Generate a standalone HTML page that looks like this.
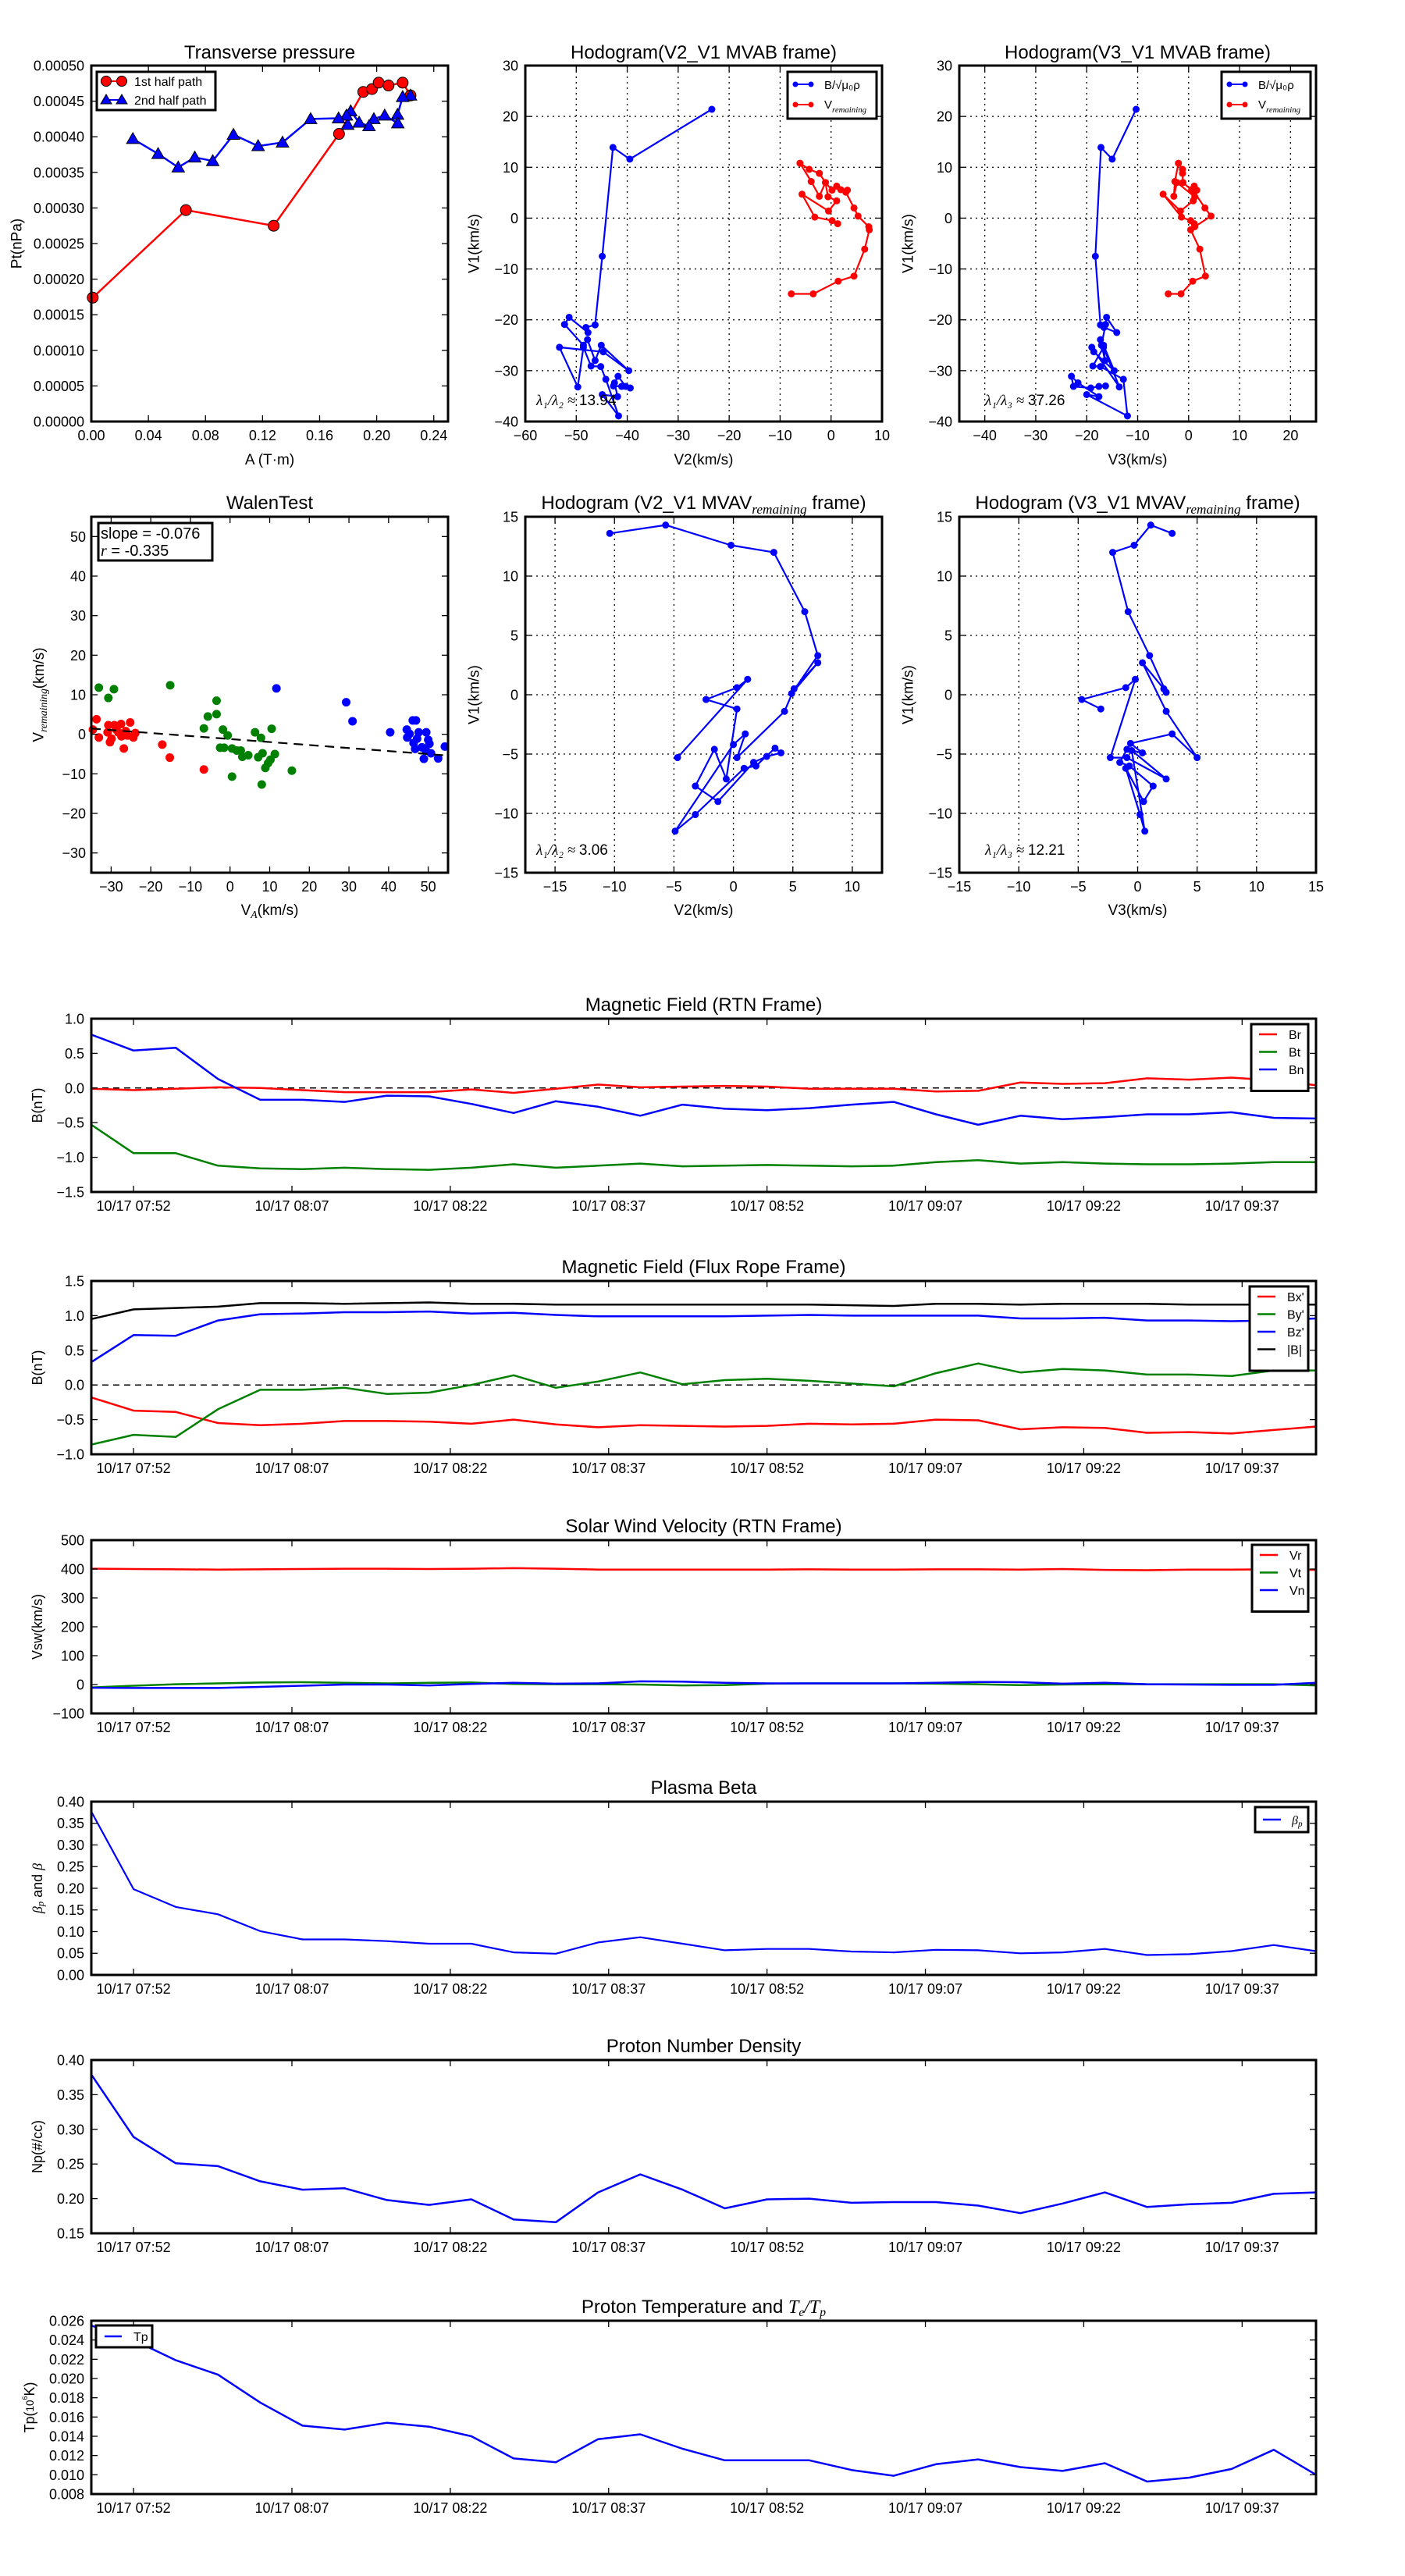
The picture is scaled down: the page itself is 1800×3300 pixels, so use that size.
<!DOCTYPE html>
<html><head><meta charset="utf-8">
<style>
html,body{margin:0;padding:0;background:#fff;}
svg{display:block;font-family:"Liberation Sans","DejaVu Sans",sans-serif;}
</style></head>
<body>
<svg id="fig" width="1800" height="3300" viewBox="0 0 1800 3300" xmlns="http://www.w3.org/2000/svg"></svg>
<script>
// ---------- Transverse pressure ----------
const ptFirstA = [0.001,0.0663,0.1278,0.1736,0.1906,0.1967,0.2014,0.2083,0.2182,0.2237];
const ptFirstP = [0.000174,0.000297,0.000275,0.000404,0.000463,0.000467,0.000476,0.000472,0.000476,0.000458];
const ptSecondA = [0.2237,0.2182,0.2146,0.2148,0.2056,0.1980,0.1946,0.1877,0.1818,0.1797,0.1788,0.1733,0.1537,0.1340,0.1169,0.0996,0.0851,0.0725,0.0609,0.0468,0.0291];
const ptSecondP = [0.000458,0.000456,0.000431,0.000419,0.000430,0.000425,0.000415,0.000420,0.000436,0.000417,0.000430,0.000426,0.000425,0.000392,0.000387,0.000403,0.000366,0.000371,0.000357,0.000376,0.000397];
const ptXTicks = [0,0.04,0.08,0.12,0.16,0.20,0.24];
const ptYTicks = [0,0.00005,0.0001,0.00015,0.0002,0.00025,0.0003,0.00035,0.0004,0.00045,0.0005];

// ---------- Hodogram V2_V1 MVAB ----------
const h1BlueV2 = [-23.4,-39.5,-42.8,-44.9,-46.3,-48.1,-47.7,-51.4,-52.3,-48.6,-47.8,-46.3,-45.1,-39.7,-44.7,-53.3,-49.7,-48.6,-47.1,-45.2,-44.2,-41.7,-44.9,-41.9,-42.5,-41.8,-40.3,-39.4,-41.1,-42.7];
const h1BlueV1 = [21.4,11.6,13.9,-7.5,-21.0,-21.5,-22.5,-19.5,-20.9,-25.0,-23.9,-28.0,-25.0,-30.0,-26.3,-25.4,-33.2,-25.4,-29.1,-29.2,-31.7,-38.9,-34.7,-35.1,-32.4,-31.1,-33.1,-33.4,-33.1,-33.0];
const h1RedV2 = [-7.8,-3.5,1.4,4.5,6.6,7.5,7.4,5.3,4.5,2.9,3.2,1.9,1.1,0.2,-1.1,-2.3,-4.3,-6.1,-3.9,-2.3,-1.1,-0.6,1.1,-0.5,-5.7,-3.2,0.2,1.3];
const h1RedV1 = [-14.9,-14.9,-12.4,-11.4,-6.1,-2.3,-1.7,0.4,2.0,5.1,5.5,5.6,6.3,5.5,7.0,8.8,9.6,10.8,7.2,4.3,7.0,4.2,3.4,1.4,4.7,0.2,-0.5,-1.1];
const h1XTicks = [-60,-50,-40,-30,-20,-10,0,10];
const h1YTicks = [-40,-30,-20,-10,0,10,20,30];

// ---------- Hodogram V3_V1 MVAB ----------
const h2BlueV3 = [-10.3,-15.0,-17.2,-18.3,-17.3,-16.6,-14.1,-16.1,-16.3,-17.1,-17.3,-16.4,-16.7,-14.6,-18.6,-19.0,-13.6,-16.7,-18.8,-17.3,-12.8,-12.0,-20.0,-17.6,-21.7,-23.0,-22.6,-19.2,-17.6,-16.3];
const h2BlueV1 = [21.4,11.6,13.9,-7.5,-21.0,-21.5,-22.5,-19.5,-20.9,-25.0,-23.9,-28.0,-25.0,-30.0,-26.3,-25.4,-33.2,-25.4,-29.1,-29.2,-31.7,-38.9,-34.7,-35.1,-32.4,-31.1,-33.1,-33.4,-33.1,-33.0];
const h2RedV3 = [-4.0,-1.5,0.8,3.3,2.2,0.4,1.2,4.4,3.2,1.1,1.6,0.6,1.1,0.6,-1.1,-1.2,-1.2,-2.0,-2.7,-2.9,-2.3,1.2,0.9,-1.6,-5.0,-1.4,0.4,1.1];
const h2RedV1 = [-14.9,-14.9,-12.4,-11.4,-6.1,-2.3,-1.7,0.4,2.0,5.1,5.5,5.6,6.3,5.5,7.0,8.8,9.6,10.8,7.2,4.3,7.0,4.2,3.4,1.4,4.7,0.2,-0.5,-1.1];
const h2XTicks = [-40,-30,-20,-10,0,10,20];
const h2YTicks = [-40,-30,-20,-10,0,10,20,30];

// ---------- Walen test ----------
const walenRedX = [-33.7,-34.6,-33.1,-30.7,-30.3,-29.9,-29.2,-28.2,-27.5,-27.4,-26.8,-26.3,-25.2,-24.4,-23.9,-30.9,-28.7,-25.9,-17.1,-15.2,-6.6];
const walenRedY = [3.8,1.2,-0.8,2.3,-2.0,-1.1,2.3,0.5,2.6,-0.5,-3.6,0.8,3.0,-0.8,0.3,0.5,1.2,-0.3,-2.6,-5.9,-8.9];
const walenGreenX = [-33.1,-30.7,-29.3,-15.1,-6.6,-5.6,-3.4,-3.4,-1.8,-1.5,-0.6,-2.5,0.5,0.5,1.7,2.7,3.1,4.6,6.3,7.1,7.8,8.2,8.0,8.9,9.6,10.2,10.5,11.3,15.6];
const walenGreenY = [11.8,9.2,11.4,12.4,1.5,4.5,8.5,5.1,1.2,-3.4,-0.3,-3.4,-3.6,-10.7,-4.1,-4.1,-5.7,-5.3,0.5,-5.8,-0.9,-4.8,-12.7,-8.5,-7.3,-6.4,1.4,-5.0,-9.2];
const walenBlueX = [11.7,29.3,30.9,40.4,44.6,44.7,46.1,46.9,46.3,46.7,47.6,49.5,50.0,50.3,48.9,50.7,52.5,54.2,45.3,47.2,48.4,49.4];
const walenBlueY = [11.6,8.1,3.3,0.5,1.2,-0.8,3.5,3.5,-2.2,-3.7,0.5,0.5,-1.4,-2.4,-6.2,-4.8,-6.1,-3.1,0.1,-1.1,-3.3,-4.1];
const walenSlope = [-0.076];
const walenIntercept = [-1.2];
const walenXTicks = [-30,-20,-10,0,10,20,30,40,50];
const walenYTicks = [-30,-20,-10,0,10,20,30,40,50];

// ---------- Hodogram V2_V1 MVAV ----------
const h3V2 = [-10.4,-5.7,-0.2,3.4,6.0,7.1,4.9,7.1,5.1,4.3,0.3,1.0,0.0,-4.9,-3.2,0.9,1.9,3.5,4.0,2.8,1.7,-1.3,-3.2,-1.6,-0.6,0.3,-2.3,0.3,1.2,-4.7];
const h3V1 = [13.6,14.3,12.6,12.0,7.0,3.3,0.1,2.7,0.5,-1.4,-5.3,-3.3,-4.2,-11.5,-10.1,-6.2,-6.0,-4.5,-4.9,-5.2,-5.7,-9.0,-7.7,-4.6,-7.1,-1.2,-0.4,0.6,1.3,-5.3];
const h3XTicks = [-15,-10,-5,0,5,10];
const h3YTicks = [-15,-10,-5,0,5,10,15];

// ---------- Hodogram V3_V1 MVAV ----------
const h4V3 = [2.9,1.1,-0.3,-2.1,-0.8,1.0,2.4,2.2,0.4,2.4,5.0,2.9,-0.6,0.4,-0.9,-1.5,-0.7,1.3,0.5,-1.0,0.2,0.6,-0.5,2.4,-0.9,-2.3,-0.2,-1.0,-4.7,-3.1];
const h4V1 = [13.6,14.3,12.6,12.0,7.0,3.3,0.2,0.5,2.7,-1.4,-5.3,-3.3,-4.1,-4.9,-4.6,-5.7,-6.0,-7.7,-9.0,-6.2,-10.1,-11.5,-4.7,-7.1,-5.3,-5.3,1.3,0.6,-0.4,-1.2];
const h4XTicks = [-15,-10,-5,0,5,10,15];
const h4YTicks = [-15,-10,-5,0,5,10,15];

// ---------- Time series (30 samples, every 4 min from 07:48) ----------
const timeTickLabels = ["10/17 07:52","10/17 08:07","10/17 08:22","10/17 08:37","10/17 08:52","10/17 09:07","10/17 09:22","10/17 09:37"];
const timeTickIndex = [1,4.75,8.5,12.25,16,19.75,23.5,27.25];
const Br = [-0.01,-0.03,-0.01,0.01,0,-0.03,-0.06,-0.06,-0.06,-0.02,-0.07,-0.01,0.05,0.01,0.02,0.03,0.02,-0.01,-0.01,-0.01,-0.05,-0.04,0.08,0.06,0.07,0.14,0.12,0.15,0.11,0.04];
const Bt = [-0.53,-0.94,-0.94,-1.12,-1.16,-1.17,-1.15,-1.17,-1.18,-1.15,-1.10,-1.15,-1.12,-1.09,-1.13,-1.12,-1.11,-1.12,-1.13,-1.12,-1.07,-1.04,-1.09,-1.07,-1.09,-1.10,-1.10,-1.09,-1.07,-1.07];
const Bn = [0.77,0.54,0.58,0.13,-0.17,-0.17,-0.20,-0.11,-0.12,-0.23,-0.36,-0.19,-0.27,-0.40,-0.24,-0.30,-0.32,-0.29,-0.24,-0.20,-0.38,-0.53,-0.40,-0.45,-0.42,-0.38,-0.38,-0.35,-0.43,-0.44];
const rtnYTicks = [-1.5,-1.0,-0.5,0.0,0.5,1.0];
const Bx_ = [-0.18,-0.37,-0.39,-0.55,-0.58,-0.56,-0.52,-0.52,-0.53,-0.56,-0.50,-0.57,-0.61,-0.58,-0.59,-0.60,-0.59,-0.56,-0.57,-0.56,-0.50,-0.51,-0.64,-0.61,-0.62,-0.69,-0.68,-0.70,-0.65,-0.60];
const By_ = [-0.86,-0.72,-0.75,-0.35,-0.07,-0.07,-0.04,-0.13,-0.11,0,0.14,-0.04,0.05,0.18,0.01,0.07,0.09,0.06,0.02,-0.02,0.17,0.31,0.18,0.23,0.21,0.15,0.15,0.13,0.21,0.21];
const Bz_ = [0.33,0.72,0.71,0.93,1.02,1.03,1.05,1.05,1.06,1.03,1.04,1.01,0.99,0.99,0.99,0.99,1.00,1.01,1.00,1.00,1.00,1.00,0.96,0.96,0.97,0.93,0.93,0.92,0.93,0.96];
const Bmag = [0.95,1.09,1.11,1.13,1.18,1.18,1.17,1.18,1.19,1.17,1.17,1.16,1.16,1.16,1.16,1.16,1.16,1.16,1.15,1.14,1.17,1.17,1.16,1.17,1.17,1.17,1.16,1.16,1.16,1.16];
const frYTicks = [-1.0,-0.5,0.0,0.5,1.0,1.5];
const Vr = [401,400,399,398,399,400,401,401,400,401,403,401,398,398,398,398,398,399,398,398,399,399,398,400,397,396,398,398,399,397];
const Vt = [-10,-4,1,4,7,8,6,4,6,7,2,1,1,0,-3,-2,3,4,4,4,3,1,-2,0,1,1,1,1,1,-3];
const Vn = [-11,-12,-12,-12,-8,-4,0,0,-3,2,6,3,4,11,10,6,4,4,4,4,6,9,8,3,6,1,0,-1,-1,6];
const swYTicks = [-100,0,100,200,300,400,500];
const betaP = [0.377,0.198,0.157,0.140,0.101,0.082,0.082,0.078,0.072,0.072,0.052,0.049,0.075,0.087,0.072,0.057,0.060,0.060,0.054,0.052,0.058,0.057,0.050,0.052,0.060,0.046,0.048,0.055,0.069,0.055];
const betaYTicks = [0,0.05,0.10,0.15,0.20,0.25,0.30,0.35,0.40];
const Np = [0.379,0.289,0.251,0.247,0.225,0.213,0.215,0.198,0.191,0.199,0.170,0.166,0.209,0.235,0.213,0.186,0.199,0.200,0.194,0.195,0.195,0.190,0.179,0.193,0.209,0.188,0.192,0.194,0.207,0.209];
const npYTicks = [0.15,0.20,0.25,0.30,0.35,0.40];
const Tp = [0.0255,0.0240,0.0219,0.0204,0.0175,0.0151,0.0147,0.0154,0.0150,0.0140,0.0117,0.0113,0.0137,0.0142,0.0127,0.0115,0.0115,0.0115,0.0105,0.0099,0.0111,0.0116,0.0108,0.0104,0.0112,0.0093,0.0097,0.0106,0.0126,0.0100];
const tpYTicks = [0.008,0.010,0.012,0.014,0.016,0.018,0.020,0.022,0.024,0.026];

const NS = "http://www.w3.org/2000/svg";
const fig = document.getElementById('fig');
function el(tag, attrs, parent){
  const e = document.createElementNS(NS, tag);
  for (const k in attrs) e.setAttribute(k, attrs[k]);
  (parent || fig).appendChild(e);
  return e;
}
function fmtMinus(s){ return String(s).replace('-', '\u2212'); }
function txt(x, y, s, size, anchor, parent, extra){
  const t = el('text', Object.assign({x:x, y:y, 'font-size':size, 'text-anchor':anchor||'middle', fill:'#000'}, extra||{}), parent);
  t.textContent = s;
  return t;
}

function makeAxes(name, L, R, T, B, x0, x1, y0, y1){
  const g = el('g', {});
  
  
  return {g:g, L:L, R:R, T:T, B:B,
    sx: v => L + (v - x0) / (x1 - x0) * (R - L),
    sy: v => B - (v - y0) / (y1 - y0) * (B - T)};
}
function drawFrame(ax){
  const r = el('rect', {x:ax.L, y:ax.T, width:ax.R-ax.L, height:ax.B-ax.T, fill:'none', stroke:'#000', 'stroke-width':3}, ax.g);
  
  
}
function drawXTicks(ax, vals, labels, size, ly, grid){
  const g = el('g', {}, ax.g);
  
  
  vals.forEach((v, i) => {
    const x = ax.sx(v);
    if (grid) el('line', {x1:x, x2:x, y1:ax.T, y2:ax.B, stroke:'#000', 'stroke-width':1.3, 'stroke-dasharray':'2,5'}, g);
    el('line', {x1:x, x2:x, y1:ax.B, y2:ax.B-8, stroke:'#000', 'stroke-width':1.3}, g);
    el('line', {x1:x, x2:x, y1:ax.T, y2:ax.T+8, stroke:'#000', 'stroke-width':1.3}, g);
    const t = txt(x, ly, labels[i], size, 'middle', g);
    
    
  });
}
function drawYTicks(ax, vals, labels, size, lx, grid){
  const g = el('g', {}, ax.g);
  
  
  vals.forEach((v, i) => {
    const y = ax.sy(v);
    if (grid) el('line', {x1:ax.L, x2:ax.R, y1:y, y2:y, stroke:'#000', 'stroke-width':1.3, 'stroke-dasharray':'2,5'}, g);
    el('line', {x1:ax.L, x2:ax.L+8, y1:y, y2:y, stroke:'#000', 'stroke-width':1.3}, g);
    el('line', {x1:ax.R, x2:ax.R-8, y1:y, y2:y, stroke:'#000', 'stroke-width':1.3}, g);
    const t = txt(lx, y + size*0.36, labels[i], size, 'end', g);
    
    
  });
}
function title(ax, s, y, size, name){
  const t = txt((ax.L+ax.R)/2, y, s, size||24, 'middle', ax.g);
  
  
  return t;
}
function xlabel(ax, s, y, size){
  const t = txt((ax.L+ax.R)/2, y, s, size||20, 'middle', ax.g);
  
  
  return t;
}
function ylabel(ax, s, x, size){
  const cy = (ax.T+ax.B)/2;
  const t = txt(x, cy, s, size||20, 'middle', ax.g, {transform:'rotate(-90 '+x+' '+cy+')', 'dominant-baseline':'central'});
  
  
  return t;
}
function polyline(ax, xs, ys, color, w, name){
  const pts = xs.map((x, i) => ax.sx(x).toFixed(1) + ',' + ax.sy(ys[i]).toFixed(1)).join(' ');
  const p = el('polyline', {points:pts, fill:'none', stroke:color, 'stroke-width':w, 'stroke-linejoin':'round'}, ax.g);
  
  
  return p;
}
function dots(ax, xs, ys, color, r, name){
  const g = el('g', {}, ax.g);
  
  
  xs.forEach((x, i) => {
    el('circle', {cx:ax.sx(x), cy:ax.sy(ys[i]), r:r, fill:color, stroke:(r>6?'#000':'none'), 'stroke-width':1}, g);
  });
  return g;
}
function tris(ax, xs, ys, color, s, name){
  const g = el('g', {}, ax.g);
  
  
  xs.forEach((x, i) => {
    const cx = ax.sx(x), cy = ax.sy(ys[i]);
    el('polygon', {points:(cx)+','+(cy-s)+' '+(cx-s)+','+(cy+s*0.75)+' '+(cx+s)+','+(cy+s*0.75), fill:color, stroke:'#000', 'stroke-width':1}, g);
  });
  return g;
}
function legendBox(parent, x, y, w, h, name){
  const g = el('g', {}, parent);
  
  
  el('rect', {x:x, y:y, width:w, height:h, fill:'#fff', stroke:'#000', 'stroke-width':3}, g);
  return g;
}
function vremLabel(t){
  t.textContent = 'V';
  const s = el('tspan', {'font-family':'"Liberation Serif",serif', 'font-style':'italic', 'font-size':'0.72em', dy:'5'}, t);
  s.textContent = 'remaining';
}

// ===== Panel 1: Transverse pressure =====
(function(){
  const ax = makeAxes('transverse-pressure-chart', 117, 574, 84, 540, 0, 0.25, 0, 0.0005);
  polyline(ax, ptFirstA, ptFirstP, '#f00', 2.5, 'first-half-line');
  polyline(ax, ptSecondA, ptSecondP, '#00f', 2.5, 'second-half-line');
  dots(ax, ptFirstA, ptFirstP, '#f00', 7, 'first-half-markers');
  tris(ax, ptSecondA, ptSecondP, '#00f', 8, 'second-half-markers');
  drawFrame(ax);
  drawXTicks(ax, ptXTicks, ptXTicks.map(v => v.toFixed(2)), 18, 564);
  drawYTicks(ax, ptYTicks, ptYTicks.map(v => v.toFixed(5)), 18, 108);
  title(ax, 'Transverse pressure', 75);
  xlabel(ax, 'A (T\u00b7m)', 595, 19);
  ylabel(ax, 'Pt(nPa)', 22, 19);
  const lg = legendBox(ax.g, 124, 92, 152, 49, 'legend');
  el('line', {x1:136, x2:156, y1:104, y2:104, stroke:'#f00', 'stroke-width':2}, lg);
  el('circle', {cx:136, cy:104, r:6.5, fill:'#f00', stroke:'#000'}, lg);
  el('circle', {cx:156, cy:104, r:6.5, fill:'#f00', stroke:'#000'}, lg);
  const t1 = txt(172, 110, '1st half path', 16, 'start', lg);
  
  
  el('line', {x1:136, x2:156, y1:128, y2:128, stroke:'#00f', 'stroke-width':2}, lg);
  el('polygon', {points:'136,121 129,133 143,133', fill:'#00f', stroke:'#000'}, lg);
  el('polygon', {points:'156,121 149,133 163,133', fill:'#00f', stroke:'#000'}, lg);
  const t2 = txt(172, 134, '2nd half path', 16, 'start', lg);
  
  
})();

function hodoLegend(ax, x, y){
  const lg = legendBox(ax.g, x, y, 114, 60, 'legend');
  el('line', {x1:x+10, x2:x+30, y1:y+16, y2:y+16, stroke:'#00f', 'stroke-width':2}, lg);
  el('circle', {cx:x+10, cy:y+16, r:3.5, fill:'#00f'}, lg);
  el('circle', {cx:x+30, cy:y+16, r:3.5, fill:'#00f'}, lg);
  const t1 = txt(x+47, y+22, 'B/\u221a\u03bc\u2080\u03c1', 15, 'start', lg);
  
  
  el('line', {x1:x+10, x2:x+30, y1:y+42, y2:y+42, stroke:'#f00', 'stroke-width':2}, lg);
  el('circle', {cx:x+10, cy:y+42, r:3.5, fill:'#f00'}, lg);
  el('circle', {cx:x+30, cy:y+42, r:3.5, fill:'#f00'}, lg);
  const t2 = txt(x+47, y+47, '', 15, 'start', lg);
  vremLabel(t2);
  
  
}
function lambdaText(ax, x, y, a, b, val){
  const t = el('text', {x:x, y:y, 'font-size':19, fill:'#000'}, ax.g);
  
  
  const s = el('tspan', {'font-family':'"Liberation Serif",serif', 'font-style':'italic'}, t);
  s.textContent = '\u03bb' + a + '/\u03bb' + b + ' \u2248 ';
  const v = el('tspan', {}, t);
  v.textContent = val;
}

// ===== Panel 2: Hodogram V2_V1 MVAB =====
(function(){
  const ax = makeAxes('hodogram-v2-v1-mvab', 673, 1130, 84, 540, -60, 10, -40, 30);
  drawXTicks(ax, h1XTicks, h1XTicks.map(fmtMinus), 18, 564, true);
  drawYTicks(ax, h1YTicks, h1YTicks.map(fmtMinus), 18, 664, true);
  polyline(ax, h1BlueV2, h1BlueV1, '#00f', 2.2, 'b-alfven-path');
  dots(ax, h1BlueV2, h1BlueV1, '#00f', 4.5, 'b-alfven-points');
  polyline(ax, h1RedV2, h1RedV1, '#f00', 2.2, 'v-remaining-path');
  dots(ax, h1RedV2, h1RedV1, '#f00', 4.5, 'v-remaining-points');
  drawFrame(ax);
  title(ax, 'Hodogram(V2_V1 MVAB frame)', 75);
  xlabel(ax, 'V2(km/s)', 595, 19);
  ylabel(ax, 'V1(km/s)', 608, 19);
  hodoLegend(ax, 1009, 92);
  lambdaText(ax, 687, 519, '\u2081', '\u2082', '13.94');
})();

// ===== Panel 3: Hodogram V3_V1 MVAB =====
(function(){
  const ax = makeAxes('hodogram-v3-v1-mvab', 1229, 1686, 84, 540, -45, 25, -40, 30);
  drawXTicks(ax, h2XTicks, h2XTicks.map(fmtMinus), 18, 564, true);
  drawYTicks(ax, h2YTicks, h2YTicks.map(fmtMinus), 18, 1220, true);
  polyline(ax, h2BlueV3, h2BlueV1, '#00f', 2.2, 'b-alfven-path');
  dots(ax, h2BlueV3, h2BlueV1, '#00f', 4.5, 'b-alfven-points');
  polyline(ax, h2RedV3, h2RedV1, '#f00', 2.2, 'v-remaining-path');
  dots(ax, h2RedV3, h2RedV1, '#f00', 4.5, 'v-remaining-points');
  drawFrame(ax);
  title(ax, 'Hodogram(V3_V1 MVAB frame)', 75);
  xlabel(ax, 'V3(km/s)', 595, 19);
  ylabel(ax, 'V1(km/s)', 1164, 19);
  hodoLegend(ax, 1565, 92);
  lambdaText(ax, 1262, 519, '\u2081', '\u2083', '37.26');
})();

// ===== Panel 4: Walen test =====
(function(){
  const ax = makeAxes('walen-test-chart', 117, 574, 662, 1118, -35, 55, -35, 55);
  dots(ax, walenRedX, walenRedY, '#f00', 5.5, 'red-points');
  dots(ax, walenGreenX, walenGreenY, '#008000', 5.5, 'green-points');
  dots(ax, walenBlueX, walenBlueY, '#00f', 5.5, 'blue-points');
  const fl = el('line', {x1:ax.sx(-35), y1:ax.sy(walenSlope[0]*-35+walenIntercept[0]), x2:ax.sx(55), y2:ax.sy(walenSlope[0]*55+walenIntercept[0]), stroke:'#000', 'stroke-width':2.2, 'stroke-dasharray':'12,8'}, ax.g);
  
  
  drawFrame(ax);
  drawXTicks(ax, walenXTicks, walenXTicks.map(fmtMinus), 18, 1142);
  drawYTicks(ax, walenYTicks, walenYTicks.map(fmtMinus), 18, 110);
  title(ax, 'WalenTest', 652);
  const xl = xlabel(ax, '', 1172, 19);
  xl.textContent = 'V';
  const sub = el('tspan', {'font-family':'"Liberation Serif",serif', 'font-style':'italic', 'font-size':'0.72em', dy:'4'}, xl);
  sub.textContent = 'A';
  const rest = el('tspan', {dy:'-4'}, xl);
  rest.textContent = '(km/s)';
  const yl = ylabel(ax, '', 50, 19);
  vremLabel(yl);
  const r2 = el('tspan', {dy:'-5'}, yl);
  r2.textContent = '(km/s)';
  const bx = legendBox(ax.g, 126, 670, 146, 48, 'stats-box');
  const s1 = txt(129, 690, 'slope = -0.076', 20, 'start', bx);
  
  
  const s2 = txt(129, 712, '', 20, 'start', bx);
  
  
  const ri = el('tspan', {'font-family':'"Liberation Serif",serif', 'font-style':'italic'}, s2);
  ri.textContent = 'r';
  const rv = el('tspan', {}, s2);
  rv.textContent = ' = -0.335';
})();

// ===== Panel 5: Hodogram V2_V1 MVAV =====
function mvavTitle(ax, pre){
  const t = title(ax, '', 652);
  t.textContent = pre;
  const s = el('tspan', {'font-family':'"Liberation Serif",serif', 'font-style':'italic', 'font-size':'0.72em', dy:'6'}, t);
  s.textContent = 'remaining';
  const r = el('tspan', {dy:'-6'}, t);
  r.textContent = ' frame)';
}
(function(){
  const ax = makeAxes('hodogram-v2-v1-mvav', 673, 1130, 662, 1118, -17.5, 12.5, -15, 15);
  drawXTicks(ax, h3XTicks, h3XTicks.map(fmtMinus), 18, 1142, true);
  drawYTicks(ax, h3YTicks, h3YTicks.map(fmtMinus), 18, 664, true);
  polyline(ax, h3V2, h3V1, '#00f', 2.2, 'hodogram-path');
  dots(ax, h3V2, h3V1, '#00f', 4.5, 'hodogram-points');
  drawFrame(ax);
  mvavTitle(ax, 'Hodogram (V2_V1 MVAV');
  xlabel(ax, 'V2(km/s)', 1172, 19);
  ylabel(ax, 'V1(km/s)', 608, 19);
  lambdaText(ax, 687, 1095, '\u2081', '\u2082', '3.06');
})();

// ===== Panel 6: Hodogram V3_V1 MVAV =====
(function(){
  const ax = makeAxes('hodogram-v3-v1-mvav', 1229, 1686, 662, 1118, -15, 15, -15, 15);
  drawXTicks(ax, h4XTicks, h4XTicks.map(fmtMinus), 18, 1142, true);
  drawYTicks(ax, h4YTicks, h4YTicks.map(fmtMinus), 18, 1220, true);
  polyline(ax, h4V3, h4V1, '#00f', 2.2, 'hodogram-path');
  dots(ax, h4V3, h4V1, '#00f', 4.5, 'hodogram-points');
  drawFrame(ax);
  mvavTitle(ax, 'Hodogram (V3_V1 MVAV');
  xlabel(ax, 'V3(km/s)', 1172, 19);
  ylabel(ax, 'V1(km/s)', 1164, 19);
  lambdaText(ax, 1262, 1095, '\u2081', '\u2083', '12.21');
})();

// ===== Time series panels =====
const tsL = 117, tsR = 1686, tsH = 222;
function tsPanel(name, top, y0, y1, yticks, fmt, ttl, ylab, zeroLine){
  const ax = makeAxes(name, tsL, tsR, top, top + tsH, 0, 29, y0, y1);
  if (zeroLine){
    const z = el('line', {x1:tsL, x2:tsR, y1:ax.sy(0), y2:ax.sy(0), stroke:'#000', 'stroke-width':1.5, 'stroke-dasharray':'8,6'}, ax.g);
    
    
  }
  ax.ttl = ttl; ax.ylab = ylab; ax.yticks = yticks; ax.fmt = fmt;
  return ax;
}
function tsFinish(ax){
  drawFrame(ax);
  drawXTicks(ax, timeTickIndex, timeTickLabels, 18, ax.B + 24);
  drawYTicks(ax, ax.yticks, ax.yticks.map(v => fmtMinus(ax.fmt(v))), 18, 108);
  if (typeof ax.ttl === 'string') title(ax, ax.ttl, ax.T - 10, 24);
  if (typeof ax.ylab === 'string') ylabel(ax, ax.ylab, 48, 18);
}
const idx = Br.map((_, i) => i);
function tsLegend(ax, x, y, w, entries){
  const h = 18 + entries.length * 22.5;
  const lg = legendBox(ax.g, x, y, w, h, 'legend');
  entries.forEach((e, i) => {
    const cy = y + 13 + i * 22.5;
    el('line', {x1:x+10, x2:x+33, y1:cy, y2:cy, stroke:e[1], 'stroke-width':2.5}, lg);
    const t = txt(x+48, cy+6, e[0], 16, 'start', lg);
    
    
  });
}

(function(){
  const ax = tsPanel('magnetic-field-rtn-chart', 1305, -1.5, 1.0, rtnYTicks, v => v.toFixed(1), 'Magnetic Field (RTN Frame)', 'B(nT)', true);
  polyline(ax, idx, Br, '#f00', 2.5, 'br-line');
  polyline(ax, idx, Bt, '#008000', 2.5, 'bt-line');
  polyline(ax, idx, Bn, '#00f', 2.5, 'bn-line');
  tsFinish(ax);
  tsLegend(ax, 1603, 1312, 73, [['Br','#f00'],['Bt','#008000'],['Bn','#00f']]);
})();
(function(){
  const ax = tsPanel('magnetic-field-flux-rope-chart', 1641, -1.0, 1.5, frYTicks, v => v.toFixed(1), 'Magnetic Field (Flux Rope Frame)', 'B(nT)', true);
  polyline(ax, idx, Bx_, '#f00', 2.5, 'bx-line');
  polyline(ax, idx, By_, '#008000', 2.5, 'by-line');
  polyline(ax, idx, Bz_, '#00f', 2.5, 'bz-line');
  polyline(ax, idx, Bmag, '#000', 2.5, 'bmag-line');
  tsFinish(ax);
  tsLegend(ax, 1601, 1648, 75, [["Bx'",'#f00'],["By'",'#008000'],["Bz'",'#00f'],['|B|','#000']]);
})();
(function(){
  const ax = tsPanel('solar-wind-velocity-chart', 1973, -100, 500, swYTicks, v => String(v), 'Solar Wind Velocity (RTN Frame)', 'Vsw(km/s)', false);
  polyline(ax, idx, Vr, '#f00', 2.5, 'vr-line');
  polyline(ax, idx, Vt, '#008000', 2.5, 'vt-line');
  polyline(ax, idx, Vn, '#00f', 2.5, 'vn-line');
  tsFinish(ax);
  tsLegend(ax, 1604, 1979, 72, [['Vr','#f00'],['Vt','#008000'],['Vn','#00f']]);
})();
(function(){
  const ax = tsPanel('plasma-beta-chart', 2308, 0, 0.40, betaYTicks, v => v.toFixed(2), 'Plasma Beta', null, false);
  polyline(ax, idx, betaP, '#00f', 2.2, 'beta-p-line');
  tsFinish(ax);
  const yl = ylabel(ax, '', 48, 18);
  const a = el('tspan', {'font-family':'"Liberation Serif",serif', 'font-style':'italic'}, yl);
  a.textContent = '\u03b2';
  const a2 = el('tspan', {'font-family':'"Liberation Serif",serif', 'font-style':'italic', 'font-size':'0.7em', dy:'4'}, yl);
  a2.textContent = 'p';
  const a3 = el('tspan', {dy:'-4'}, yl);
  a3.textContent = ' and ';
  const a4 = el('tspan', {'font-family':'"Liberation Serif",serif', 'font-style':'italic'}, yl);
  a4.textContent = '\u03b2';
  const lg = legendBox(ax.g, 1608, 2315, 68, 32, 'legend');
  el('line', {x1:1618, x2:1641, y1:2331, y2:2331, stroke:'#00f', 'stroke-width':2.5}, lg);
  const t = txt(1655, 2337, '\u03b2', 16, 'start', lg, {'font-family':'"Liberation Serif",serif', 'font-style':'italic'});
  const ts = el('tspan', {'font-size':'0.7em', dy:'3'}, t);
  ts.textContent = 'p';
  
  
})();
(function(){
  const ax = tsPanel('proton-density-chart', 2639, 0.15, 0.40, npYTicks, v => v.toFixed(2), 'Proton Number Density', 'Np(#/cc)', false);
  polyline(ax, idx, Np, '#00f', 2.5, 'np-line');
  tsFinish(ax);
})();
(function(){
  const ax = tsPanel('proton-temperature-chart', 2973, 0.008, 0.026, tpYTicks, v => v.toFixed(3), null, null, false);
  polyline(ax, idx, Tp, '#00f', 2.5, 'tp-line');
  tsFinish(ax);
  const t = title(ax, 'Proton Temperature and ', ax.T - 10, 24);
  const i1 = el('tspan', {'font-family':'"Liberation Serif",serif', 'font-style':'italic'}, t);
  i1.textContent = 'T';
  const i2 = el('tspan', {'font-family':'"Liberation Serif",serif', 'font-style':'italic', 'font-size':'0.65em', dy:'4'}, t);
  i2.textContent = 'e';
  const i3 = el('tspan', {'font-family':'"Liberation Serif",serif', 'font-style':'italic', dy:'-4'}, t);
  i3.textContent = '/T';
  const i4 = el('tspan', {'font-family':'"Liberation Serif",serif', 'font-style':'italic', 'font-size':'0.65em', dy:'4'}, t);
  i4.textContent = 'p';
  const yl = ylabel(ax, 'Tp(', 38, 18);
  const e1 = el('tspan', {'font-size':'0.75em'}, yl);
  e1.textContent = '10';
  const e2 = el('tspan', {'font-size':'0.5em', dy:'-6'}, yl);
  e2.textContent = '6';
  const e3 = el('tspan', {dy:'6'}, yl);
  e3.textContent = 'K)';
  const lg = legendBox(ax.g, 123, 2979, 72, 28, 'legend');
  el('line', {x1:134, x2:156, y1:2993, y2:2993, stroke:'#00f', 'stroke-width':2.5}, lg);
  const lt = txt(171, 2999, 'Tp', 16, 'start', lg);
  
  
})();
</script>
</body></html>
